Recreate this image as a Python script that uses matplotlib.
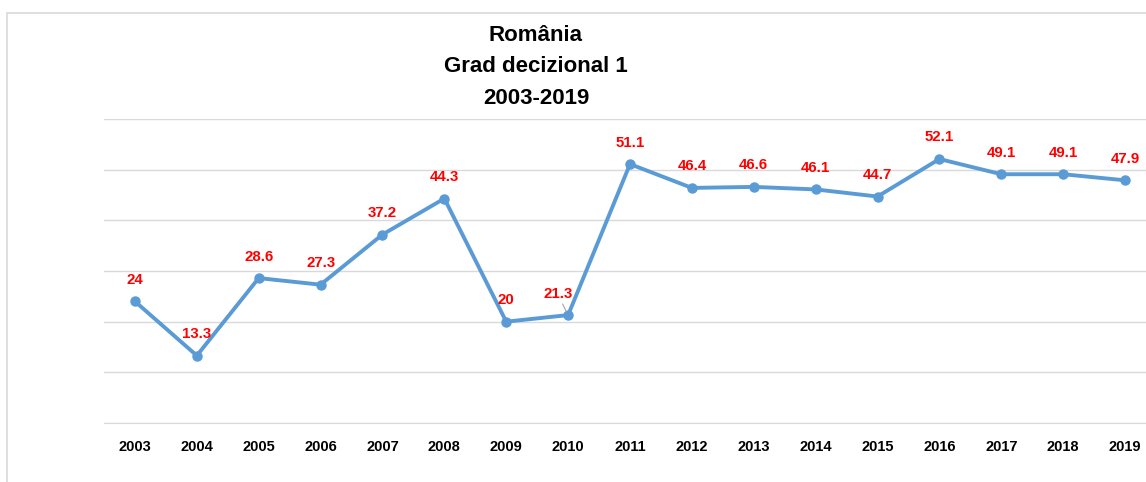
import matplotlib
matplotlib.use('Agg')
import matplotlib.pyplot as plt
from matplotlib.patches import Rectangle

years=['2003','2004','2005','2006','2007','2008','2009','2010','2011','2012','2013','2014','2015','2016','2017','2018','2019']
values=[24,13.3,28.6,27.3,37.2,44.3,20,21.3,51.1,46.4,46.6,46.1,44.7,52.1,49.1,49.1,47.9]
labels=['24','13.3','28.6','27.3','37.2','44.3','20','21.3','51.1','46.4','46.6','46.1','44.7','52.1','49.1','49.1','47.9']

plt.rcParams['font.family']=['Liberation Sans','DejaVu Sans']

W,H=1146,482
fig=plt.figure(figsize=(W/100,H/100),dpi=100)

# chart area border (cut at right and bottom)
fig.patches.append(Rectangle((7/W,-0.2),1.5,0.2+(H-13)/H,transform=fig.transFigure,
                             fill=False,edgecolor='#d9d9d9',linewidth=1.2))

ax=fig.add_axes([104/W,1-423/H,(1156-104)/W,(423-119)/H])
x=list(range(len(years)))
ax.plot(x,values,'-o',color='#5b9bd5',linewidth=2.8,markersize=6.5,zorder=3)
ax.set_xlim(-0.5,len(years)-0.5)
ax.set_ylim(0,60)
ax.set_yticks([0,10,20,30,40,50,60])
ax.set_yticklabels([])
ax.grid(axis='y',color='#d9d9d9',linewidth=1)
ax.tick_params(axis='both',length=0)
ax.set_xticks(x)
ax.set_xticklabels(years,fontweight='bold',fontsize=10.5)
ax.tick_params(axis='x',pad=12)
for s in ['top','right','left']:
    ax.spines[s].set_visible(False)
ax.spines['bottom'].set_color('#d9d9d9')

for i,(v,t) in enumerate(zip(values,labels)):
    dx=0
    if t=='21.3':
        dx=-7
        ax.annotate('',xy=(i,v),xytext=(-4,8),textcoords='offset points',
                    arrowprops=dict(arrowstyle='-',color='#a6a6a6',linewidth=0.8,shrinkA=0,shrinkB=3))
    ax.annotate(t,(i,v),xytext=(dx,15.5),textcoords='offset points',ha='center',va='center',
                color='red',fontweight='bold',fontsize=10.8)

fig.text(536/W,1-67/H,'România\nGrad decizional 1\n2003-2019',ha='center',va='center',
         fontsize=16,fontweight='bold',linespacing=1.65)

fig.savefig('out.png',dpi=100)
